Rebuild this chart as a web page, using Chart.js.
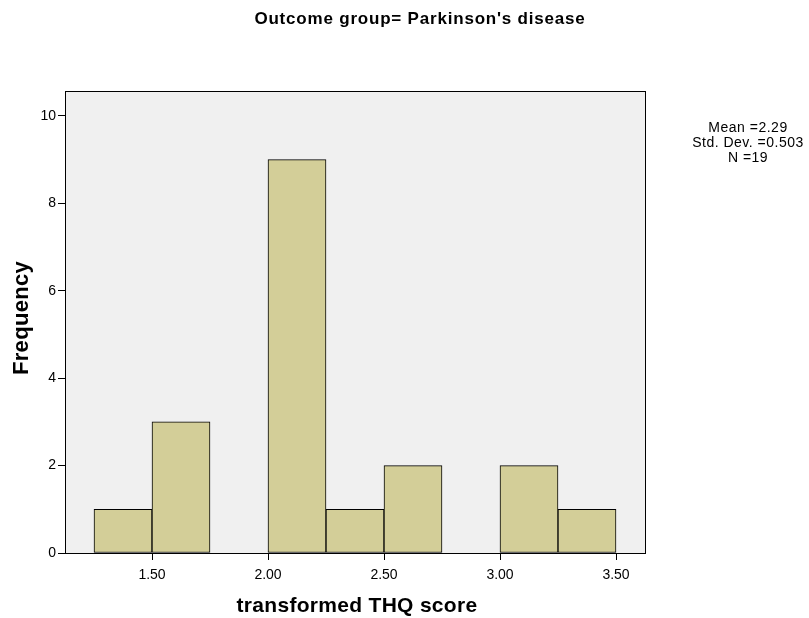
<!DOCTYPE html>
<html><head><meta charset="utf-8">
<script src="https://cdn.jsdelivr.net/npm/chart.js@4/dist/chart.umd.min.js"></script>
<style>html,body{margin:0;padding:0;background:#fff}#wrap{width:809px;height:618px}</style>
</head><body><div id="wrap"><canvas id="c" width="809" height="618"></canvas></div>
<script>
const binCenters = [1.375, 1.625, 2.125, 2.375, 2.625, 3.125, 3.375];
const frequencies = [1, 3, 9, 1, 2, 2, 1];
const xTicks = [1.5, 2.0, 2.5, 3.0, 3.5];
const yTicks = [0, 2, 4, 6, 8, 10];
const titleText = "Outcome group= Parkinson's disease";
const xTitle = "transformed THQ score";
const yTitle = "Frequency";
const statsLines = ["Mean =2.29", "Std. Dev. =0.503", "N =19"];

const FONT = "'Liberation Sans', Arial, sans-serif";

const decor = {
  id: 'decor',
  beforeDraw(chart) {
    const {ctx, chartArea: a} = chart;
    ctx.save();
    ctx.fillStyle = '#F0F0F0';
    ctx.fillRect(a.left, a.top, a.right - a.left, a.bottom - a.top);
    ctx.restore();
  },
  afterDraw(chart) {
    const {ctx, chartArea: a} = chart;
    ctx.save();
    ctx.strokeStyle = '#000';
    ctx.lineWidth = 1;
    ctx.strokeRect(Math.round(a.left) + 0.5, Math.round(a.top) + 0.5, Math.round(a.right - a.left), Math.round(a.bottom - a.top));
    ctx.fillStyle = '#000';
    ctx.textAlign = 'center';
    ctx.textBaseline = 'middle';
    ctx.font = "bold 17px " + FONT;
    ctx.letterSpacing = '0.8px';
    ctx.fillText(titleText, 420, 19);
    ctx.letterSpacing = '0.3px';
    ctx.font = "bold 21px " + FONT;
    ctx.fillText(xTitle, 357, 606);
    ctx.save();
    ctx.translate(22, 318);
    ctx.rotate(-Math.PI / 2);
    ctx.font = "bold 22px " + FONT;
    ctx.fillText(yTitle, 0, 0);
    ctx.restore();
    ctx.font = "14px " + FONT;
    ctx.letterSpacing = '0.5px';
    statsLines.forEach((s, i) => ctx.fillText(s, 748, 128 + i * 15));
    ctx.restore();
  }
};

new Chart(document.getElementById('c'), {
  type: 'bar',
  data: {
    datasets: [{
      data: binCenters.map((x, i) => ({x: x, y: frequencies[i]})),
      backgroundColor: '#D3CE98',
      borderColor: '#000',
      borderWidth: 1,
      borderSkipped: false,
      barPercentage: 1.0,
      categoryPercentage: 1.0
    }]
  },
  options: {
    responsive: false,
    animation: false,
    layout: {padding: {left: 0, top: 91, right: 164, bottom: 0}},
    plugins: {legend: {display: false}, tooltip: {enabled: false}, title: {display: false}},
    scales: {
      x: {
        type: 'linear',
        offset: false,
        min: 1.125, max: 3.625,
        afterBuildTicks: s => { s.ticks = xTicks.map(v => ({value: v})); },
        afterFit: s => { s.height = 65; },
        ticks: {color: '#000', font: {family: FONT, size: 14}, padding: 7, maxRotation: 0,
          callback: v => v.toFixed(2)},
        grid: {offset: false, drawOnChartArea: false, color: '#000', tickLength: 7, tickWidth: 1},
        border: {display: true, color: '#000', width: 1}
      },
      y: {
        min: 0, max: 10.57,
        afterBuildTicks: s => { s.ticks = yTicks.map(v => ({value: v})); },
        afterFit: s => { s.width = 65; },
        ticks: {color: '#000', font: {family: FONT, size: 14}, padding: 2},
        grid: {drawOnChartArea: false, color: '#000', tickLength: 7, tickWidth: 1},
        border: {display: true, color: '#000', width: 1}
      }
    }
  },
  plugins: [decor]
});
</script></body></html>
